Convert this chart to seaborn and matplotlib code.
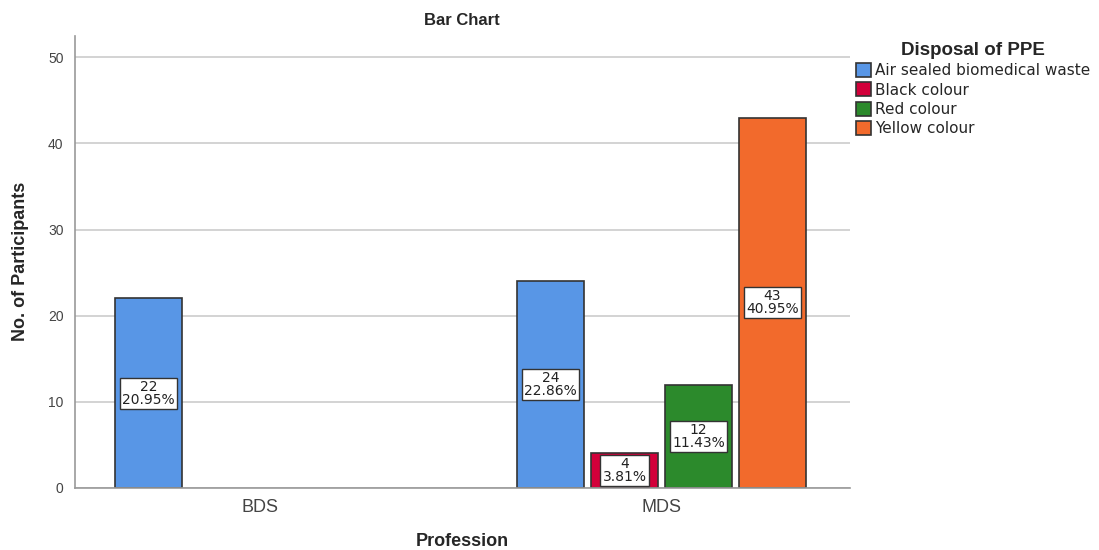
import pandas as pd
import seaborn as sns
import matplotlib.pyplot as plt

professions = ['BDS', 'MDS', 'MDS', 'MDS', 'MDS']
disposal = ['Air sealed biomedical waste', 'Air sealed biomedical waste',
            'Black colour', 'Red colour', 'Yellow colour']
counts = [22, 24, 4, 12, 43]
percents = ['20.95%', '22.86%', '3.81%', '11.43%', '40.95%']

hue_order = ['Air sealed biomedical waste', 'Black colour', 'Red colour', 'Yellow colour']
palette = {'Air sealed biomedical waste': '#5896e6',
           'Black colour': '#d2003a',
           'Red colour': '#2c8a2c',
           'Yellow colour': '#f26a2c'}

df = pd.DataFrame({'Profession': professions, 'Disposal': disposal,
                   'Count': counts, 'Pct': percents})

sns.set_style('white')
plt.rcParams['font.family'] = ['Liberation Sans', 'DejaVu Sans']

fig = plt.figure(figsize=(10.99, 5.5), dpi=100)
ax = fig.add_axes([0.068, 0.113, 0.705, 0.822])

sns.barplot(data=df, x='Profession', y='Count', hue='Disposal', hue_order=hue_order,
            order=['BDS', 'MDS'], palette=palette, width=0.736, gap=0.1,
            edgecolor='#333333', linewidth=1.2, ax=ax, errorbar=None, saturation=1)

# value labels in the middle of each bar
for cont, level in zip(ax.containers, hue_order):
    sub = df[df['Disposal'] == level].set_index('Profession')
    for bar, prof in zip(cont, sub.index):
        h = bar.get_height()
        if h != h or h == 0:
            continue
        row = sub.loc[prof]
        ax.text(bar.get_x() + bar.get_width() / 2, h / 2,
                f"{row['Count']}\n{row['Pct']}", ha='center', va='center',
                fontsize=10, linespacing=0.9, color='#222222', zorder=5,
                family=['DejaVu Sans'],
                bbox=dict(boxstyle='square,pad=0.15', facecolor='white',
                          edgecolor='#333333', linewidth=1))

ax.set_ylim(0, 52.5)
ax.set_xlim(-0.46, 1.468)
ax.set_yticks([0, 10, 20, 30, 40, 50])
ax.yaxis.grid(True, color='#cccccc', linewidth=1.2)
ax.set_axisbelow(True)
for s in ['top', 'right']:
    ax.spines[s].set_visible(False)
for s in ['left', 'bottom']:
    ax.spines[s].set_color('#999999')
    ax.spines[s].set_linewidth(1.2)
ax.tick_params(axis='y', labelsize=10, colors='#444444', length=0, pad=8)
ax.tick_params(axis='x', labelsize=13, colors='#444444', length=0, pad=8)

ax.set_title('Bar Chart', fontsize=12, fontweight='bold', pad=8)
ax.set_xlabel('Profession', fontsize=13, fontweight='bold', labelpad=12)
ax.set_ylabel('No. of Participants', fontsize=13, fontweight='bold', labelpad=14)

leg = ax.legend(title='Disposal of PPE', loc='upper left', bbox_to_anchor=(1.0, 1.0),
                frameon=False, prop={'family': 'DejaVu Sans', 'size': 11},
                title_fontproperties={'weight': 'bold', 'size': 13.5},
                handlelength=1.0, handleheight=1.0, handletextpad=0.25, labelspacing=0.28,
                borderaxespad=0.0)
leg._legend_box.align = 'center'
for h in leg.legend_handles:
    h.set_edgecolor('#333333')

fig.savefig('out.png', dpi=100)
